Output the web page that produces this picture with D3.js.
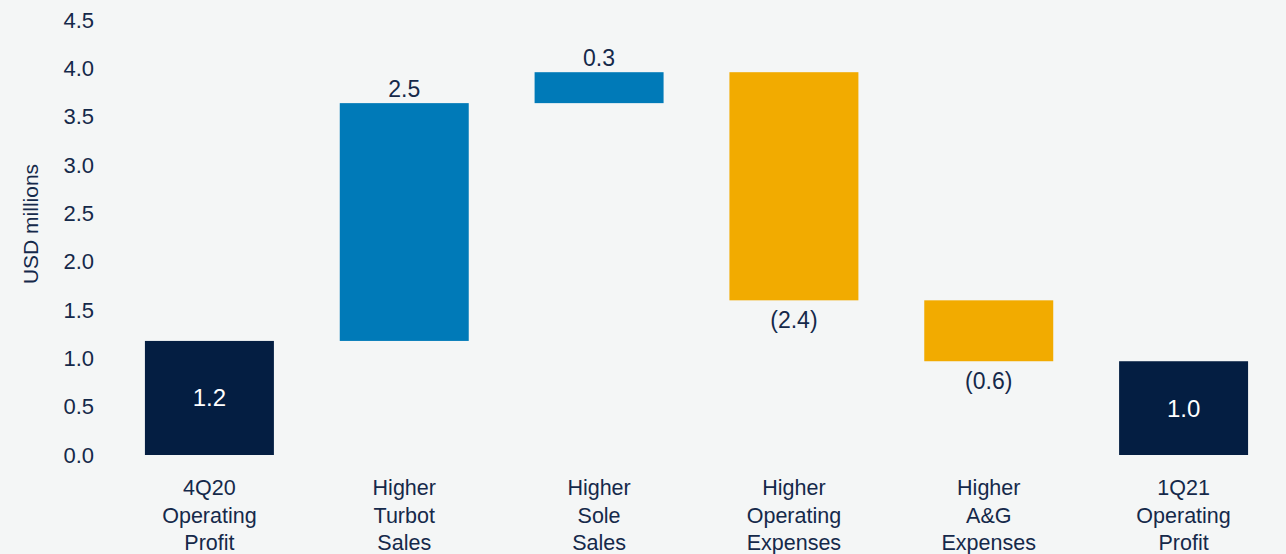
<!DOCTYPE html>
<html>
<head>
<meta charset="utf-8">
<script src="https://cdn.jsdelivr.net/npm/d3@7"></script>
<style>
  body { margin: 0; background: #f4f6f6; }
  svg { display: block; font-family: "Liberation Sans", Arial, sans-serif; }
</style>
</head>
<body>
<svg id="chart" width="1286" height="554"></svg>
<script>
const categories = [
  ['4Q20', 'Operating', 'Profit'],
  ['Higher', 'Turbot', 'Sales'],
  ['Higher', 'Sole', 'Sales'],
  ['Higher', 'Operating', 'Expenses'],
  ['Higher', 'A&G', 'Expenses'],
  ['1Q21', 'Operating', 'Profit']
];
// change per step; totals are first and last
const steps = [1.18, 2.46, 0.32, -2.36, -0.63, null];
const kinds = ['total', 'up', 'up', 'down', 'down', 'total'];
const yTicks = [0, 0.5, 1, 1.5, 2, 2.5, 3, 3.5, 4, 4.5];

const colors = { total: '#041e42', up: '#007ab8', down: '#f2ab00' };
const textColor = '#15294a';

const svg = d3.select('#chart');

// build waterfall segments
let running = 0;
const bars = steps.map((v, i) => {
  let y0, y1, val;
  if (kinds[i] === 'total') {
    val = v === null ? running : v;
    y0 = 0; y1 = val;
    running = val;
  } else {
    val = v;
    y0 = running; y1 = running + v;
    running = y1;
  }
  return { i, kind: kinds[i], val, lo: Math.min(y0, y1), hi: Math.max(y0, y1) };
});

const x = d3.scaleBand()
  .domain(d3.range(categories.length))
  .range([112, 1281])
  .paddingInner(0.338)
  .paddingOuter(0.169);

const y = d3.scaleLinear()
  .domain([0, 4.5])
  .range([455, 20]);

// y axis
const yAxis = svg.append('g')
  .attr('transform', 'translate(96,0)')
  .call(d3.axisLeft(y).tickValues(yTicks).tickFormat(d3.format('.1f')).tickSize(0).tickPadding(2));
yAxis.select('.domain').remove();
yAxis.selectAll('text')
  .attr('fill', textColor)
  .style('font-size', '22px');

svg.append('text')
  .attr('transform', 'translate(38,224) rotate(-90)')
  .attr('text-anchor', 'middle')
  .attr('fill', textColor)
  .style('font-size', '21px')
  .text('USD millions');

// bars
svg.selectAll('.bar')
  .data(bars)
  .enter().append('rect')
  .attr('class', 'bar')
  .attr('x', d => x(d.i))
  .attr('width', x.bandwidth())
  .attr('y', d => y(d.hi))
  .attr('height', d => y(d.lo) - y(d.hi))
  .attr('fill', d => colors[d.kind]);

// value labels
const fmt = d3.format('.1f');
svg.selectAll('.val')
  .data(bars)
  .enter().append('text')
  .attr('class', 'val')
  .attr('x', d => x(d.i) + x.bandwidth() / 2)
  .attr('y', d => {
    if (d.kind === 'total') return (y(d.lo) + y(d.hi)) / 2;
    if (d.kind === 'up') return y(d.hi) - 14;
    return y(d.lo) + 20;
  })
  .attr('dy', '0.35em')
  .attr('text-anchor', 'middle')
  .attr('fill', d => d.kind === 'total' ? '#ffffff' : textColor)
  .style('font-size', d => d.kind === 'total' ? '24px' : '23px')
  .text(d => d.val < 0 ? `(${fmt(-d.val)})` : fmt(d.val));

// category labels
const cat = svg.selectAll('.cat')
  .data(categories)
  .enter().append('text')
  .attr('class', 'cat')
  .attr('text-anchor', 'middle')
  .attr('fill', textColor)
  .style('font-size', '21.5px');

cat.selectAll('tspan')
  .data((d, i) => d.map(line => ({ line, i })))
  .enter().append('tspan')
  .attr('x', d => x(d.i) + x.bandwidth() / 2)
  .attr('y', (d, j) => 495 + j * 27.5)
  .text(d => d.line);
</script>
</body>
</html>
